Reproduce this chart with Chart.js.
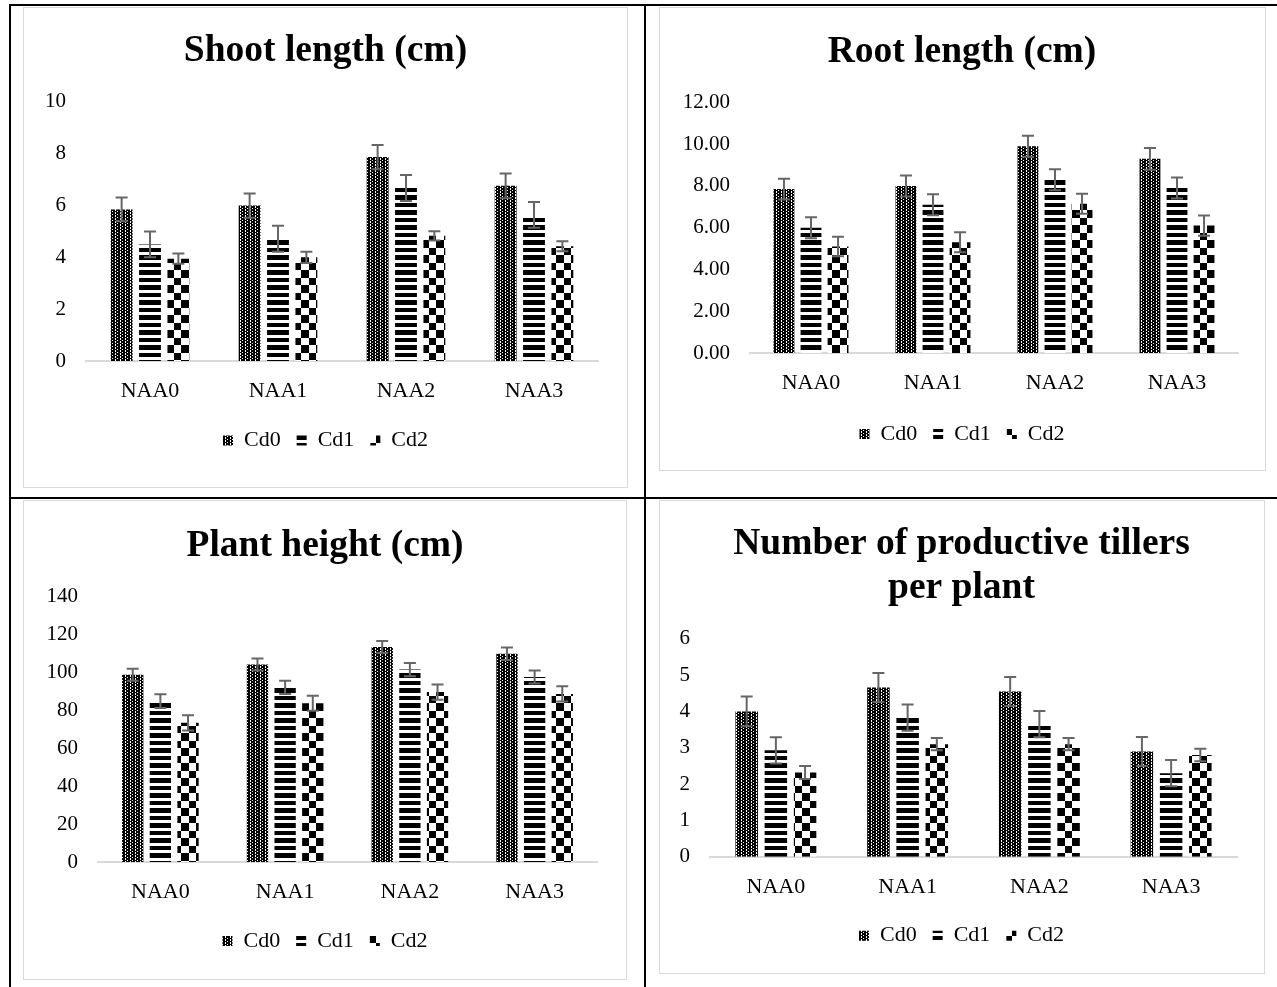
<!DOCTYPE html>
<html>
<head>
<meta charset="utf-8">
<script src="https://cdn.jsdelivr.net/npm/chart.js@4.4.1/dist/chart.umd.min.js"></script>
<style>
  html, body { margin: 0; padding: 0; background: #fff; }
  body { width: 1277px; height: 987px; position: relative; overflow: hidden; }
  .rule { position: absolute; background: #000; }
  .box { position: absolute; border: 1px solid #d9d9d9; box-sizing: border-box; }
  canvas { position: absolute; }
</style>
</head>
<body>
<!-- table rules -->
<div class="rule" style="left:9px;top:4px;width:1268px;height:2px"></div>
<div class="rule" style="left:9px;top:4px;width:2px;height:983px"></div>
<div class="rule" style="left:644px;top:4px;width:2px;height:983px"></div>
<div class="rule" style="left:9px;top:497px;width:1268px;height:2px"></div>

<!-- chart frames -->
<div class="box" style="left:23px;top:7px;width:605px;height:481px"></div>
<div class="box" style="left:659px;top:7px;width:607px;height:464px"></div>
<div class="box" style="left:23px;top:500px;width:604px;height:480px"></div>
<div class="box" style="left:659px;top:500px;width:606px;height:474px"></div>

<canvas id="shoot" width="603" height="478" style="left:24px;top:8px"></canvas>
<canvas id="root" width="604" height="462" style="left:660px;top:8px"></canvas>
<canvas id="height" width="602" height="478" style="left:24px;top:501px"></canvas>
<canvas id="tillers" width="603" height="472" style="left:660px;top:501px"></canvas>

<script>
// ---- data ----
const categories = ['NAA0', 'NAA1', 'NAA2', 'NAA3'];
const seriesNames = ['Cd0', 'Cd1', 'Cd2'];

// Shoot length (cm)
const shootCd0 = [5.85, 6.00, 7.87, 6.76];
const shootCd1 = [4.50, 4.72, 6.68, 5.64];
const shootCd2 = [3.95, 4.00, 4.83, 4.43];
const shootErrCd0 = [0.46, 0.47, 0.47, 0.48];
const shootErrCd1 = [0.50, 0.50, 0.50, 0.50];
const shootErrCd2 = [0.20, 0.22, 0.18, 0.19];
const shootTicks = [0, 2, 4, 6, 8, 10];

// Root length (cm)
const rootCd0 = [7.85, 8.00, 9.90, 9.30];
const rootCd1 = [6.00, 7.10, 8.30, 7.90];
const rootCd2 = [5.10, 5.30, 7.15, 6.10];
const rootErrCd0 = [0.50, 0.50, 0.50, 0.52];
const rootErrCd1 = [0.50, 0.50, 0.50, 0.50];
const rootErrCd2 = [0.47, 0.48, 0.48, 0.48];
const rootTicks = [0, 2, 4, 6, 8, 10, 12];

// Plant height (cm)
const heightCd0 = [98.6, 104.0, 113.2, 109.6];
const heightCd1 = [84.7, 92.0, 101.3, 97.4];
const heightCd2 = [73.3, 83.6, 89.5, 88.5];
const heightErrCd0 = [3.1, 3.2, 3.2, 3.3];
const heightErrCd1 = [3.6, 3.5, 3.5, 3.4];
const heightErrCd2 = [4.0, 3.9, 4.0, 4.0];
const heightTicks = [0, 20, 40, 60, 80, 100, 120, 140];

// Number of productive tillers per plant
const tillerCd0 = [4.00, 4.66, 4.55, 2.90];
const tillerCd1 = [2.93, 3.83, 3.65, 2.30];
const tillerCd2 = [2.32, 3.10, 3.10, 2.80];
const tillerErrCd0 = [0.41, 0.40, 0.40, 0.40];
const tillerErrCd1 = [0.36, 0.36, 0.36, 0.36];
const tillerErrCd2 = [0.18, 0.17, 0.17, 0.17];
const tillerTicks = [0, 1, 2, 3, 4, 5, 6];

// ---- fill patterns (black & white hatching per Cd level) ----
function makePattern(w, h, paint) {
  const c = document.createElement('canvas');
  c.width = w; c.height = h;
  const g = c.getContext('2d');
  paint(g);
  return g.createPattern(c, 'repeat');
}
// dark fill with columns of short white dashes
const dottedFill = makePattern(5, 3, g => {
  g.fillStyle = '#000'; g.fillRect(0, 0, 5, 3);
  g.fillStyle = '#fff'; g.fillRect(1, 0, 1, 2); g.fillRect(3, 2, 1, 1);
});
// thick horizontal stripes
const stripeFill = makePattern(8, 15, g => {
  g.fillStyle = '#fff'; g.fillRect(0, 0, 8, 15);
  g.fillStyle = '#000'; g.fillRect(0, 0, 8, 4); g.fillRect(0, 7, 8, 5);
});
// large checkerboard
const checkerFill = makePattern(15, 15, g => {
  g.fillStyle = '#fff'; g.fillRect(0, 0, 15, 15);
  g.fillStyle = '#000'; g.fillRect(0, 0, 7, 7); g.fillRect(7, 7, 8, 8);
});
const fills = [dottedFill, stripeFill, checkerFill];

// ---- error bars drawn from each bar's value through the y scale ----
const errorBars = {
  id: 'errorBars',
  afterDatasetsDraw(chart, args, opts) {
    const ctx = chart.ctx;
    const y = chart.scales.y;
    chart.data.datasets.forEach((ds, di) => {
      const meta = chart.getDatasetMeta(di);
      meta.data.forEach((bar, i) => {
        const v = ds.data[i], e = ds.errors[i];
        const top = y.getPixelForValue(v + e);
        const bot = y.getPixelForValue(v - e);
        const x = bar.x, hw = opts.capWidth / 2;
        ctx.save();
        ctx.strokeStyle = opts.color;
        ctx.lineWidth = opts.width;
        ctx.beginPath();
        ctx.moveTo(x, top); ctx.lineTo(x, bot);
        ctx.moveTo(x - hw, top); ctx.lineTo(x + hw, top);
        ctx.moveTo(x - hw, bot); ctx.lineTo(x + hw, bot);
        ctx.stroke();
        ctx.restore();
      });
    });
  }
};

// keeps the legend band at a fixed height, and centres title + legend on the whole frame
function frameLayout(h) {
  return {
    id: 'frameLayout',
    beforeLayout(chart) {
      const lg = chart.legend;
      if (lg && !lg._bandFixed) {
        const fit = lg.fit;
        lg.fit = function () { fit.call(this); this.height = h; };
        lg._bandFixed = true;
      }
    },
    afterLayout(chart) {
      [chart.titleBlock, chart.legend].forEach(b => {
        if (!b) return;
        b.left = 0; b.right = chart.width; b.width = chart.width;
      });
    }
  };
}

const SERIF = "'Liberation Serif', 'Times New Roman', serif";

function drawChart(id, cfg) {
  return new Chart(document.getElementById(id), {
    type: 'bar',
    data: {
      labels: categories,
      datasets: seriesNames.map((name, k) => ({
        label: name,
        data: cfg.values[k],
        errors: cfg.errors[k],
        backgroundColor: fills[k],
        borderWidth: 0,
        categoryPercentage: 0.665,
        barPercentage: 0.77
      }))
    },
    options: {
      responsive: false,
      animation: false,
      events: [],
      layout: { padding: { left: 0, right: cfg.padRight, top: 0, bottom: 0 } },
      plugins: {
        title: {
          display: true,
          text: cfg.title,
          color: '#000',
          font: { family: SERIF, size: 37.5, weight: 'bold', lineHeight: 1.166 },
          padding: { top: cfg.titleTop, bottom: cfg.titleBottom }
        },
        legend: {
          position: 'bottom',
          labels: {
            boxWidth: 10, boxHeight: 10, padding: 16, color: '#000',
            font: { family: SERIF, size: 22 }
          }
        },
        tooltip: { enabled: false },
        errorBars: { color: '#666666', width: 2, capWidth: 12 }
      },
      scales: {
        x: {
          grid: { display: false, drawTicks: false },
          border: { display: true, color: '#d9d9d9', width: 2 },
          ticks: { color: '#000', font: { family: SERIF, size: 22 }, padding: 17.5, maxRotation: 0, autoSkip: false },
          afterFit: s => { s.height = cfg.xHeight; }
        },
        y: {
          min: cfg.ticks[0],
          max: cfg.ticks[cfg.ticks.length - 1],
          grid: { display: false, drawTicks: false },
          border: { display: false },
          ticks: { color: '#000', font: { family: SERIF, size: 21 }, padding: 20, callback: cfg.fmt },
          afterBuildTicks: s => { s.ticks = cfg.ticks.map(v => ({ value: v })); },
          afterFit: s => { s.width = cfg.yWidth; }
        }
      }
    },
    plugins: [errorBars, frameLayout(cfg.legendHeight)]
  });
}

drawChart('shoot', {
  title: 'Shoot length (cm)',
  values: [shootCd0, shootCd1, shootCd2],
  errors: [shootErrCd0, shootErrCd1, shootErrCd2],
  ticks: shootTicks, fmt: v => String(v),
  titleTop: 21.9, titleBottom: 28.3, yWidth: 62, padRight: 29, xHeight: 52.5, legendHeight: 72.5
});
drawChart('root', {
  title: 'Root length (cm)',
  values: [rootCd0, rootCd1, rootCd2],
  errors: [rootErrCd0, rootErrCd1, rootErrCd2],
  ticks: rootTicks, fmt: v => Number(v).toFixed(2),
  titleTop: 22.4, titleBottom: 28.3, yWidth: 90, padRight: 26, xHeight: 54, legendHeight: 63
});
drawChart('height', {
  title: 'Plant height (cm)',
  values: [heightCd0, heightCd1, heightCd2],
  errors: [heightErrCd0, heightErrCd1, heightErrCd2],
  ticks: heightTicks, fmt: v => String(v),
  titleTop: 23.7, titleBottom: 27.7, yWidth: 74, padRight: 29, xHeight: 52, legendHeight: 65
});
drawChart('tillers', {
  title: ['Number of productive tillers', 'per plant'],
  values: [tillerCd0, tillerCd1, tillerCd2],
  errors: [tillerErrCd0, tillerErrCd1, tillerErrCd2],
  ticks: tillerTicks, fmt: v => String(v),
  titleTop: 21.6, titleBottom: 28.8, yWidth: 50, padRight: 26, xHeight: 52, legendHeight: 64.3
});
</script>
</body>
</html>
